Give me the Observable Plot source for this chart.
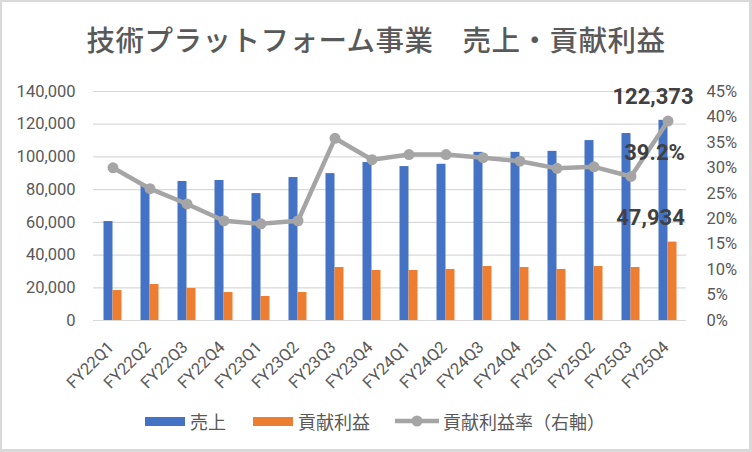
<!DOCTYPE html>
<html>
<head>
<meta charset="utf-8">
<script src="https://cdn.jsdelivr.net/npm/d3@7"></script>
<script src="https://cdn.jsdelivr.net/npm/@observablehq/plot@0.6"></script>
<style>
  html, body { margin: 0; padding: 0; background: #fff; }
  #wrap { position: relative; width: 752px; height: 452px; overflow: hidden; background: #fff; }
  #frame { position: absolute; left: 0; top: 0; width: 752px; height: 452px; box-sizing: border-box;
           border: 2px solid #d9d9d9; border-right-width: 3px; border-bottom-width: 3px; pointer-events: none; z-index: 5; }
  #title { position: absolute; left: 0; top: 24px; width: 752px; text-align: center;
           font-family: "Noto Sans CJK JP", sans-serif; font-size: 28.5px; font-weight: 500; line-height: 30px; color: #595959; letter-spacing: 0.5px; }
  #chart { position: absolute; left: 0; top: 70px; }
  #legend { position: absolute; left: 145px; top: 408px; height: 26px; display: flex; align-items: center;
            font-family: "Noto Sans CJK JP", sans-serif; font-size: 18px; color: #595959; white-space: nowrap; }
  .sw { width: 40px; height: 9px; margin-right: 5px; }
  .lab { line-height: 26px; }
</style>
</head>
<body>
<div id="wrap">
  <div id="title">技術プラットフォーム事業　売上・貢献利益</div>
  <div id="chart"></div>
  <div id="legend"></div>
  <div id="frame"></div>
</div>
<script>
const categories = ["FY22Q1","FY22Q2","FY22Q3","FY22Q4","FY23Q1","FY23Q2","FY23Q3","FY23Q4",
                    "FY24Q1","FY24Q2","FY24Q3","FY24Q4","FY25Q1","FY25Q2","FY25Q3","FY25Q4"];
const sales  = [60500, 82500, 85000, 85600, 77600, 87400, 89800, 96600,
                94100, 95500, 102800, 102800, 103400, 110000, 114300, 122373];
const profit = [18300, 22000, 19600, 17100, 14700, 17100, 32400, 30600,
                30600, 31200, 33000, 32400, 31200, 33000, 32400, 47934];
const marginPct = [30.0, 25.9, 22.9, 19.6, 19.0, 19.6, 35.8, 31.6,
                   32.6, 32.6, 32.0, 31.3, 29.9, 30.2, 28.3, 39.2];
const leftTicks = [0, 20000, 40000, 60000, 80000, 100000, 120000, 140000];
const rightTicks = [0, 5, 10, 15, 20, 25, 30, 35, 40, 45];
const seriesNames = ["売上", "貢献利益", "貢献利益率（右軸）"];
const colors = ["#4472C4", "#ED7D31", "#A5A5A5"];

const yMax = 140000, pMax = 45;
const k = yMax / pMax;
const rows = categories.map((c, i) => ({cat: c, sales: sales[i], profit: profit[i], pct: marginPct[i]}));
const last = [rows[rows.length - 1]];
const fmt = d3.format(",");

const chart = Plot.plot({
  width: 752,
  height: 325,
  marginTop: 21,
  marginBottom: 75,
  marginLeft: 93,
  marginRight: 66,
  style: {fontFamily: "Roboto, 'Noto Sans CJK JP', sans-serif", fontSize: "16.5px", color: "#595959", background: "transparent", overflow: "visible"},
  x: {domain: categories, padding: 0, axis: null},
  y: {domain: [0, yMax], axis: null},
  marks: [
    Plot.gridY(leftTicks, {stroke: "#D9D9D9", strokeOpacity: 1, strokeWidth: 1.2}),
    Plot.axisY({ticks: leftTicks, tickSize: 0, tickPadding: 18, tickFormat: d => fmt(d), fill: "#595959"}),
    Plot.axisY({anchor: "right", ticks: rightTicks.map(p => p * k), tickSize: 0, tickPadding: 20,
                tickFormat: d => Math.round(d / k) + "%", fill: "#595959", label: null}),
    Plot.axisX({tickRotate: -45, tickSize: 0, tickPadding: 24, dx: -2, fill: "#595959", fontSize: 16.5, label: null}),
    Plot.barY(rows, {x: "cat", y: "sales", fill: colors[0], insetLeft: 9.5, insetRight: 18.5}),
    Plot.barY(rows, {x: "cat", y: "profit", fill: colors[1], insetLeft: 18.5, insetRight: 9.5}),
    Plot.ruleY([0], {stroke: "#D9D9D9", strokeWidth: 1.2}),
    Plot.line(rows, {x: "cat", y: d => d.pct * k, stroke: colors[2], strokeWidth: 4.5}),
    Plot.dot(rows, {x: "cat", y: d => d.pct * k, r: 5.5, fill: colors[2], stroke: "none"}),
    Plot.text(last, {x: "cat", y: "sales", text: d => fmt(d.sales), dx: -15, dy: -23,
                     fontWeight: "bold", fontSize: 22, fill: "#404040"}),
    Plot.text(last, {x: "cat", y: d => d.pct * k, text: d => d.pct.toFixed(1) + "%", dx: -13.5, dy: 32,
                     fontWeight: "bold", fontSize: 22, fill: "#404040"}),
    Plot.text(last, {x: "cat", y: "profit", text: d => fmt(d.profit), dx: -17.5, dy: -24.6,
                     fontWeight: "bold", fontSize: 22, fill: "#404040"})
  ]
});
document.getElementById("chart").appendChild(chart);

// legend
const legend = document.getElementById("legend");
const gaps = [27, 25, 0];
seriesNames.forEach((name, i) => {
  if (i < 2) {
    const sw = document.createElement("div");
    sw.className = "sw";
    sw.style.background = colors[i];
    legend.appendChild(sw);
  } else {
    const ns = "http://www.w3.org/2000/svg";
    const svg = document.createElementNS(ns, "svg");
    svg.setAttribute("width", 44); svg.setAttribute("height", 14);
    svg.style.marginRight = "4px";
    const ln = document.createElementNS(ns, "line");
    ln.setAttribute("x1", 0); ln.setAttribute("x2", 44); ln.setAttribute("y1", 7); ln.setAttribute("y2", 7);
    ln.setAttribute("stroke", colors[2]); ln.setAttribute("stroke-width", 4.5);
    const c = document.createElementNS(ns, "circle");
    c.setAttribute("cx", 22); c.setAttribute("cy", 7); c.setAttribute("r", 5.5); c.setAttribute("fill", colors[2]);
    svg.appendChild(ln); svg.appendChild(c);
    legend.appendChild(svg);
  }
  const t = document.createElement("span");
  t.className = "lab";
  t.textContent = name;
  t.style.marginRight = gaps[i] + "px";
  legend.appendChild(t);
});
</script>
</body>
</html>
